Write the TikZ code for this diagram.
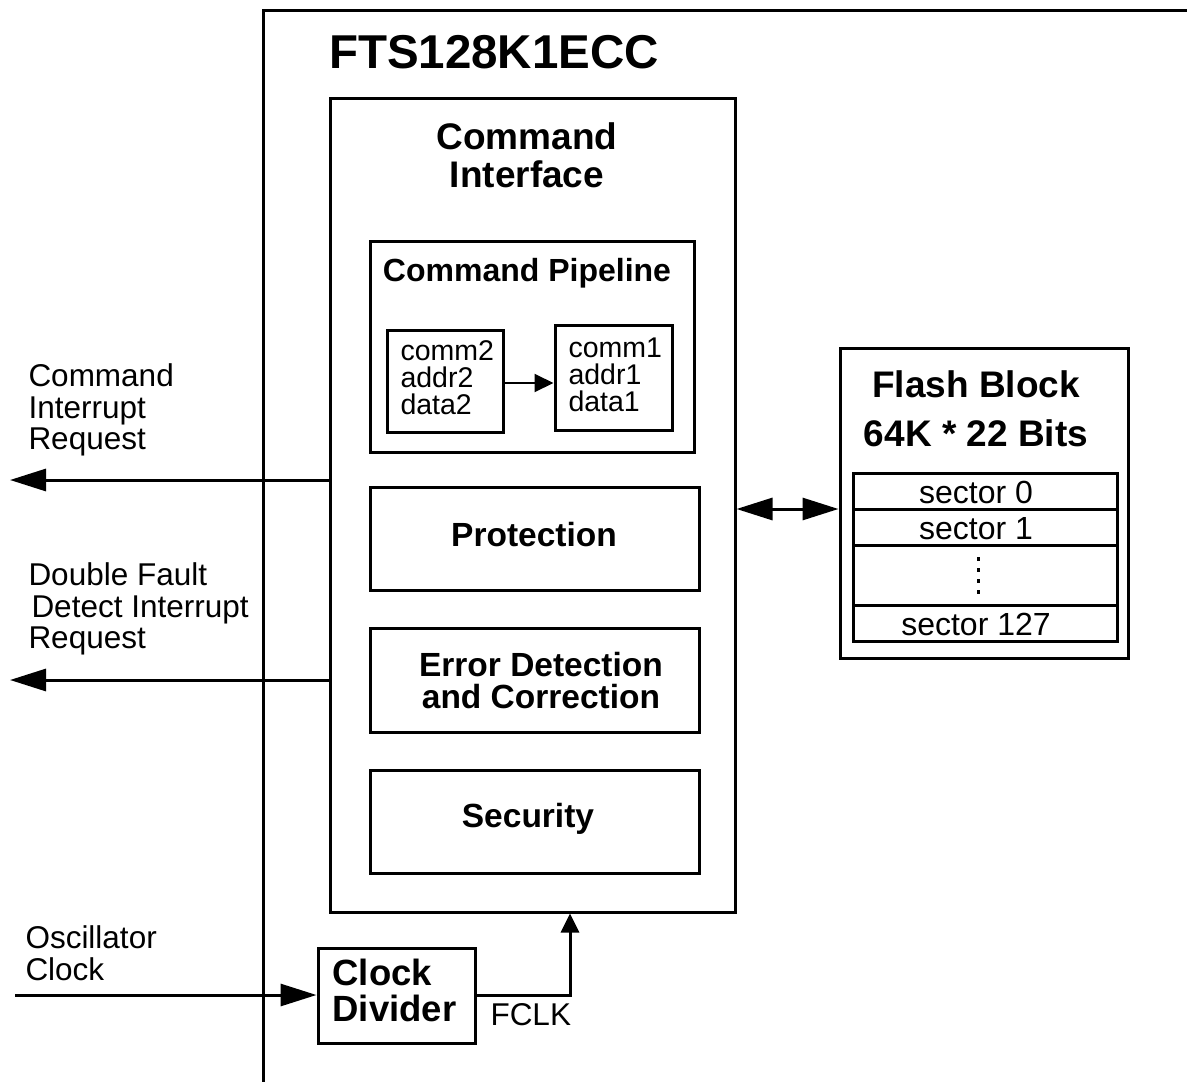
\documentclass[tikz,border=0pt]{standalone}
\usepackage{fontspec}
\setmainfont{Liberation Sans}
\usetikzlibrary{arrows.meta,positioning}

\begin{document}
\begin{tikzpicture}[x=1pt,y=-1pt,line width=3pt,
    >={Triangle[length=36pt,width=22pt]},
    small tip/.style={-{Triangle[length=19pt,width=18pt]}},
    blk/.style={draw,rectangle,inner sep=0pt},
    sector/.style={blk,outer sep=0pt,minimum width=264pt,minimum height=36pt},
    sectxt/.style={label={[xshift=-9pt,yshift=-1.5pt,font=\fontsize{32}{32}\selectfont]center:#1}},
    lbl/.style={inner sep=0pt,anchor=west,align=left,
      font=\fontsize{31.5}{31.5}\selectfont},
    hd/.style={inner sep=0pt,align=center,
      font=\fontsize{33.5}{32}\selectfont\bfseries}
    ]
\useasboundingbox (0,0) rectangle (1187,1082);

% module boundary
\draw (263,1082) -- (263,10) -- (1187,10);
\node[inner sep=0pt,font=\fontsize{47.5}{47.5}\selectfont\bfseries] (title) at (494,52) {FTS128K1ECC};

% command interface
\node[blk,minimum width=405pt,minimum height=814pt] (ci) at (532.5,505) {};
\node[hd,font=\fontsize{37}{38}\selectfont\bfseries] (citxt) at (527,155) {Command\\Interface};

\node[blk,minimum width=324pt,minimum height=211pt] (pipe) at (532,346.5) {};
\node[hd,font=\fontsize{32}{32}\selectfont\bfseries] (pipetxt) at (527,273) {Command Pipeline};
\node[blk,minimum width=116pt,minimum height=102pt] (comm2) at (445,381) {};
\node[blk,minimum width=117pt,minimum height=105pt] (comm1) at (613.5,377.5) {};
\node[lbl,font=\fontsize{28.5}{27}\selectfont] (c2txt) at (399,378) {comm2\\addr2\\data2};
\node[lbl,font=\fontsize{28.5}{27}\selectfont] (c1txt) at (567,375) {comm1\\addr1\\data1};
\draw[small tip,line width=2pt] ([yshift=-2pt]comm2.east) -- ([yshift=-2pt]comm2.east -| comm1.west);

\node[blk,minimum width=329pt,minimum height=103pt] (prot) at (534.5,538.5) {};
\node[hd] (prottxt) at (534,535) {Protection};
\node[blk,minimum width=329pt,minimum height=104pt] (ecc) [below=35.2pt of prot] {};
\node[hd] (ecctxt) at (541,681) {Error Detection\\and Correction};
\node[blk,minimum width=329pt,minimum height=103pt] (sec) [below=35.2pt of ecc] {};
\node[hd] (sectxt) at (528,819) {Security};

% flash block
\node[blk,minimum width=288pt,minimum height=310pt] (flash) at (984,503) {};
\node[hd,font=\fontsize{37}{49}\selectfont\bfseries] (fltxt) at (976,409) {Flash Block\\64K * 22 Bits};
\node[sector,sectxt=sector 0] (sec0) at (985,491) {};
\node[sector,sectxt=sector 1] (sec1) [below=0pt of sec0] {};
\node[sector,minimum height=60pt] (secdots) [below=0pt of sec1] {};
\node[sector,sectxt=sector 127] (sec127) [below=0pt of secdots] {};
\draw[line width=3pt,dash pattern=on 4pt off 7pt]
  ([xshift=-7pt,yshift=-12pt]secdots.north) -- ([xshift=-7pt,yshift=8pt]secdots.south);
\draw[<->] (ci.east |- sec1.north) -- (flash.west |- sec1.north);

% interrupts
\coordinate (cirq) at (10,480);
\coordinate (dfirq) at (10,680);
\draw[->] (ci.west |- cirq) -- (cirq);
\draw[->] (ci.west |- dfirq) -- (dfirq);
\node[lbl] (cirqtxt) at (27,410) {Command\\Interrupt\\Request};
\node[lbl] (dfirqtxt) at (27,609) {Double Fault\\\hspace{3pt}Detect Interrupt\\Request};

% clock
\node[blk,minimum width=157pt,minimum height=95pt] (clk) at (396.5,995.5) {};
\node[hd,align=left,anchor=west,font=\fontsize{36.5}{36}\selectfont\bfseries] (clktxt) at (331,990) {Clock\\Divider};
\coordinate (osc) at (15,995);
\node[lbl] (osctxt) at (24,953) {Oscillator\\Clock};
\draw[->] (osc) -- (clk.west |- osc);
\draw[small tip] (clk.east |- osc) -| ([xshift=37.5pt]ci.south);
\node[lbl] (fclk) at (489,1015) {FCLK};
\end{tikzpicture}
\end{document}
